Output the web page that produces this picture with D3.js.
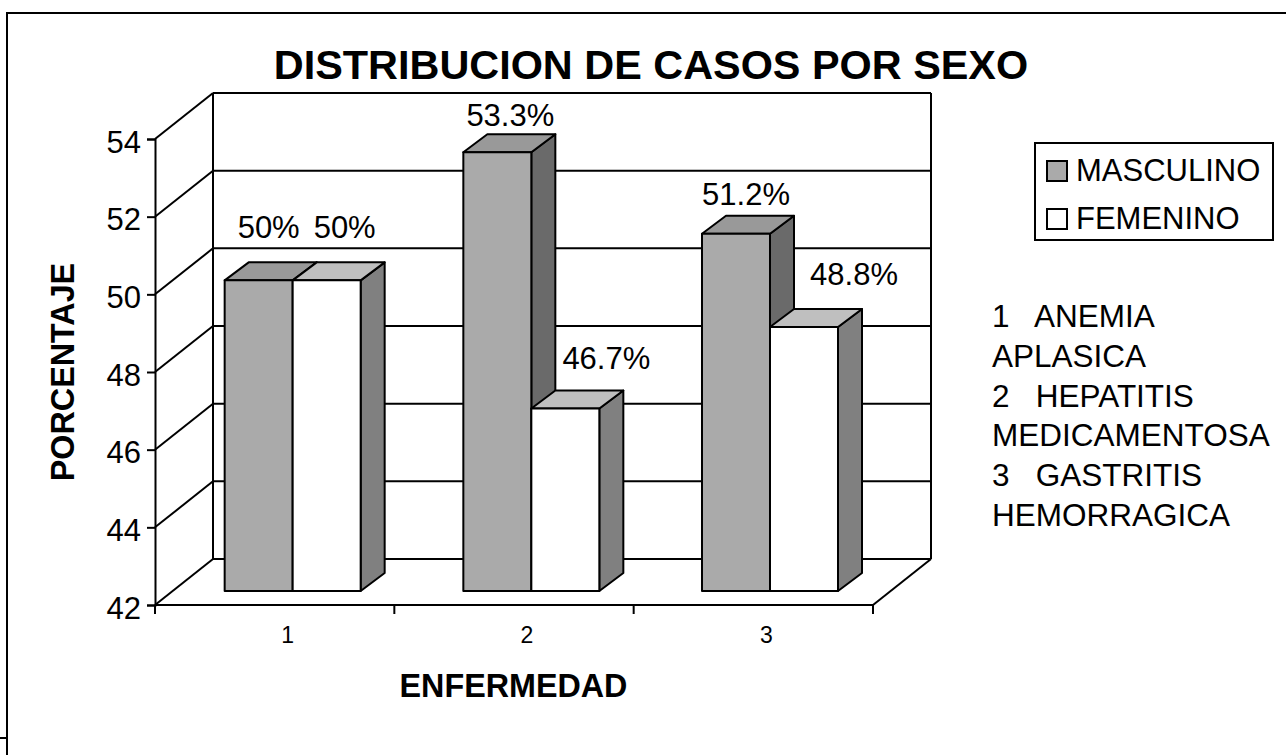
<!DOCTYPE html>
<html>
<head>
<meta charset="utf-8">
<title>Distribucion de casos por sexo</title>
<script src="https://d3js.org/d3.v7.min.js"></script>
<style>
  html, body { margin: 0; padding: 0; background: #fff; }
  svg { display: block; }
  text { font-family: "Liberation Sans", Arial, sans-serif; fill: #000; }
</style>
</head>
<body>
<script>
// data
var categories = ["1", "2", "3"];
var seriesNames = ["MASCULINO", "FEMENINO"];
var masculino = [50, 53.3, 51.2];
var femenino = [50, 46.7, 48.8];
var masculinoLabels = ["50%", "53.3%", "51.2%"];
var femeninoLabels = ["50%", "46.7%", "48.8%"];
var yTicks = [42, 44, 46, 48, 50, 52, 54];
var noteLines = ["1   ANEMIA", "APLASICA", "2   HEPATITIS", "MEDICAMENTOSA", "3   GASTRITIS", "HEMORRAGICA"];

var W = 1286, H = 755;
var svg = d3.select("body").append("svg").attr("width", W).attr("height", H);

// front plane of the 3d box, and how far the back wall is shifted
var left = 155, right = 873, top_ = 139, bottom = 605;
var wallDx = 58, wallDy = -46;
// bars stand a bit inside the box
var barIn = {x: 18, y: -14};
var barDepth = {x: 24, y: -18};
var fontBig = "31px", fontBold = "32.3px";

var y = d3.scaleLinear().domain([42, 54]).range([bottom, top_]);
var x = d3.scaleBand().domain(categories).range([left, right]);
var barBand = d3.scaleBand().domain(categories).range([left + barIn.x, right + barIn.x - 2]);
var inner = d3.scaleBand().domain(seriesNames).range([0, 136]);

var stroke = "#000";

// outer frame, open on the right and at the bottom
var frame = svg.append("g").attr("fill", "none").attr("stroke", stroke).attr("stroke-width", 2);
frame.append("path").attr("d", "M7," + H + "V13H" + W);
frame.append("path").attr("d", "M0,738H7");

// back wall and floor
var box = svg.append("g").attr("fill", "none").attr("stroke", stroke).attr("stroke-width", 2);
box.selectAll("line.grid").data(yTicks).enter().append("line")
    .attr("class", "grid")
    .attr("x1", left + wallDx).attr("x2", right + wallDx)
    .attr("y1", function(d) { return y(d) + wallDy; })
    .attr("y2", function(d) { return y(d) + wallDy; });
box.selectAll("line.side").data(yTicks).enter().append("line")
    .attr("class", "side")
    .attr("x1", left).attr("x2", left + wallDx)
    .attr("y1", function(d) { return y(d); })
    .attr("y2", function(d) { return y(d) + wallDy; });
box.append("line").attr("x1", left + wallDx).attr("x2", left + wallDx)
    .attr("y1", y(54) + wallDy).attr("y2", y(42) + wallDy);
box.append("line").attr("x1", right + wallDx).attr("x2", right + wallDx)
    .attr("y1", y(54) + wallDy).attr("y2", y(42) + wallDy);
box.append("line").attr("x1", right).attr("x2", right + wallDx)
    .attr("y1", y(42)).attr("y2", y(42) + wallDy);

// axes
var yAxis = d3.axisLeft(y).tickValues(yTicks).tickSize(8).tickPadding(6);
var gy = svg.append("g").attr("transform", "translate(" + left + ",0)").call(yAxis);
gy.select(".domain").attr("stroke-width", 2);
gy.selectAll(".tick line").attr("stroke-width", 2);
gy.selectAll("text").style("font-size", fontBig).attr("dy", "0.42em");

var xAxis = d3.axisBottom(x).tickSize(0).tickPadding(22);
var gx = svg.append("g").attr("transform", "translate(0," + bottom + ")").call(xAxis);
gx.select(".domain").attr("stroke-width", 2).attr("d", "M" + left + ",0H" + right);
// the tick numbers sit right of the band centre in the original
gx.selectAll("text").style("font-size", "23px").attr("dx", 13);
gx.selectAll("line.sep").data(x.domain().map(function(d) { return x(d); }).concat([right]))
  .enter().append("line").attr("class", "sep")
    .attr("x1", function(d) { return d; }).attr("x2", function(d) { return d; })
    .attr("y1", 0).attr("y2", 9).attr("stroke", stroke).attr("stroke-width", 2);

// bars, back to front
var barColors = {
  MASCULINO: {front: "#aaaaaa", top: "#999999", side: "#6a6a6a"},
  FEMENINO: {front: "#ffffff", top: "#bfbfbf", side: "#808080"}
};
var rows = [];
categories.forEach(function(c, i) {
  rows.push({cat: c, name: seriesNames[0], value: masculino[i], label: masculinoLabels[i]});
  rows.push({cat: c, name: seriesNames[1], value: femenino[i], label: femeninoLabels[i]});
});
var base = bottom + barIn.y;
var groupPad = (x.bandwidth() - 136) / 2;
function barLeft(d) { return barBand(d.cat) + groupPad + inner(d.name); }
function barTop(d) { return y(d.value) + barIn.y; }

var bars = svg.append("g").attr("stroke", stroke).attr("stroke-width", 2).attr("stroke-linejoin", "round");
rows.forEach(function(d) {
  var x0 = barLeft(d);
  var x1 = x0 + inner.bandwidth();
  var yt = barTop(d);
  var c = barColors[d.name];
  var g = bars.append("g");
  g.append("path").attr("fill", c.side).attr("d",
    d3.line()([[x1, yt], [x1 + barDepth.x, yt + barDepth.y], [x1 + barDepth.x, base + barDepth.y], [x1, base]]) + "Z");
  g.append("path").attr("fill", c.top).attr("d",
    d3.line()([[x0, yt], [x0 + barDepth.x, yt + barDepth.y], [x1 + barDepth.x, yt + barDepth.y], [x1, yt]]) + "Z");
  g.append("rect").attr("fill", c.front).attr("x", x0).attr("y", yt).attr("width", inner.bandwidth()).attr("height", base - yt);
});

// value labels, hand placed next to their bars like in the original
var labelShift = [[10, -42], [18, -42], [13, -26], [41, -39], [10, -29], [50, -42]];
svg.append("g").selectAll("text").data(rows).enter().append("text")
    .attr("x", function(d, i) { return barLeft(d) + inner.bandwidth() / 2 + labelShift[i][0]; })
    .attr("y", function(d, i) { return barTop(d) + labelShift[i][1]; })
    .attr("text-anchor", "middle").style("font-size", fontBig)
    .text(function(d) { return d.label; });

// titles
svg.append("text").attr("x", 651).attr("y", 79).attr("text-anchor", "middle")
    .style("font-size", "41.4px").style("font-weight", "bold").text("DISTRIBUCION DE CASOS POR SEXO");
svg.append("text").attr("x", 513.5).attr("y", 697).attr("text-anchor", "middle")
    .style("font-size", fontBold).style("font-weight", "bold").text("ENFERMEDAD");
svg.append("text").attr("transform", "translate(74,372) rotate(-90)").attr("text-anchor", "middle")
    .style("font-size", fontBold).style("font-weight", "bold").text("PORCENTAJE");

// legend
var legend = svg.append("g");
legend.append("rect").attr("x", 1035).attr("y", 143).attr("width", 238).attr("height", 97)
    .attr("fill", "#fff").attr("stroke", stroke).attr("stroke-width", 2);
var legendY = d3.scalePoint().domain(seriesNames).range([171, 219]);
seriesNames.forEach(function(name) {
  legend.append("rect").attr("x", 1047).attr("y", legendY(name) - 10).attr("width", 20).attr("height", 20)
      .attr("fill", barColors[name].front).attr("stroke", stroke).attr("stroke-width", 2);
  legend.append("text").attr("x", 1076).attr("y", legendY(name) + 10)
      .style("font-size", fontBig).text(name);
});

// note on the right
svg.append("g").selectAll("text").data(noteLines).enter().append("text")
    .attr("x", 992).attr("y", function(d, i) { return 327 + i * 39.8; })
    .style("font-size", "31.5px").style("white-space", "pre")
    .text(function(d) { return d; });
</script>
</body>
</html>
